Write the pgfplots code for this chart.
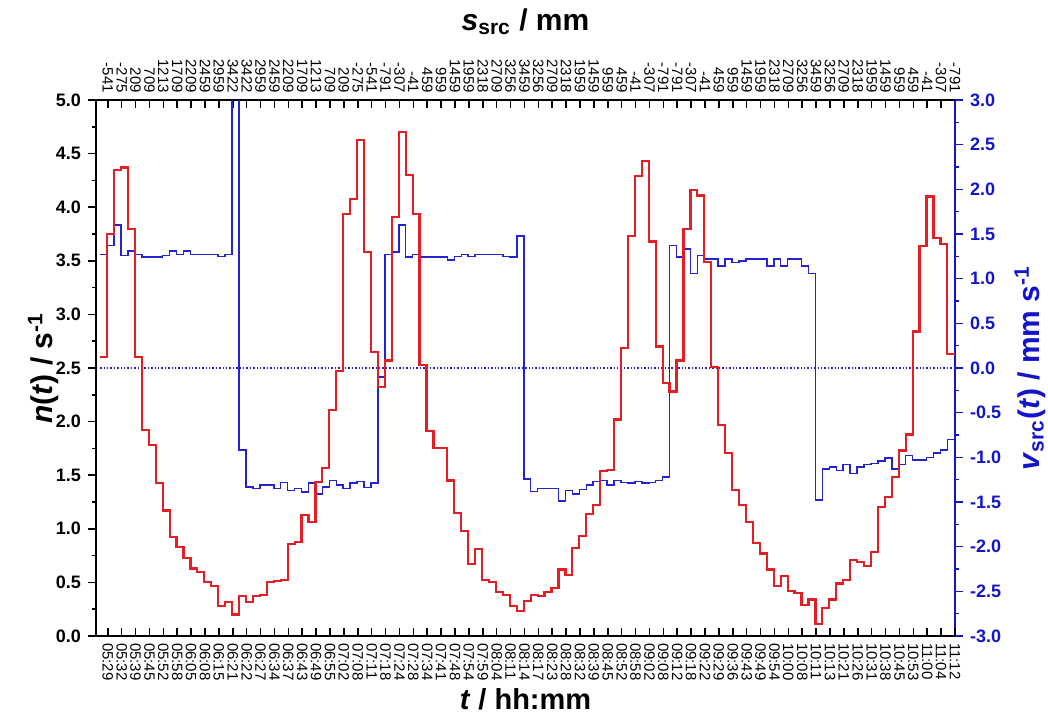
\documentclass[border=0pt]{standalone}
\usepackage{fontspec}
\setmainfont{Liberation Sans}
\usepackage{pgfplots}
\usepackage{pgfplotstable}
\pgfplotsset{compat=1.18}
\usetikzlibrary{calc}
\definecolor{myred}{RGB}{228,30,36}
\definecolor{myblue}{RGB}{35,35,210}
\definecolor{axblue}{RGB}{20,20,205}

\pgfplotstableread{
x n v
-0.55 2.60 1.27
-0.05 3.75 1.37
0.45 4.35 1.60
0.95 4.37 1.26
1.45 3.80 1.31
1.95 2.60 1.27
2.45 1.92 1.24
2.95 1.78 1.24
3.45 1.43 1.24
3.95 1.17 1.26
4.45 0.92 1.31
4.95 0.83 1.27
5.45 0.73 1.31
5.95 0.63 1.27
6.45 0.60 1.27
6.95 0.50 1.27
7.45 0.47 1.27
7.95 0.28 1.25
8.45 0.32 1.27
8.95 0.20 3.50
9.45 0.37 -0.92
9.95 0.32 -1.33
10.45 0.37 -1.35
10.95 0.38 -1.31
11.45 0.50 -1.31
11.95 0.51 -1.35
12.45 0.52 -1.28
12.95 0.86 -1.37
13.45 0.88 -1.35
13.95 1.13 -1.39
14.45 1.06 -1.29
14.95 1.44 -1.41
15.45 1.57 -1.33
15.95 2.11 -1.26
16.45 2.47 -1.31
16.95 3.94 -1.35
17.45 4.08 -1.29
17.95 4.63 -1.27
18.45 3.58 -1.34
18.95 2.65 -1.29
19.45 2.32 -0.10
19.95 2.57 1.27
20.45 3.91 1.30
20.95 4.70 1.60
21.45 4.30 1.24
21.95 3.94 1.27
22.45 2.53 1.24
22.95 1.91 1.24
23.45 1.75 1.24
23.95 1.75 1.24
24.45 1.45 1.21
24.95 1.15 1.25
25.45 0.98 1.27
25.95 0.67 1.25
26.45 0.81 1.27
26.95 0.52 1.27
27.45 0.50 1.27
27.95 0.41 1.27
28.45 0.38 1.25
28.95 0.28 1.24
29.45 0.23 1.48
29.95 0.33 -1.24
30.45 0.38 -1.38
30.95 0.37 -1.35
31.45 0.41 -1.35
31.95 0.45 -1.35
32.45 0.62 -1.49
32.95 0.57 -1.37
33.45 0.82 -1.41
33.95 0.93 -1.36
34.45 1.14 -1.31
34.95 1.22 -1.27
35.45 1.54 -1.26
35.95 1.55 -1.31
36.45 2.02 -1.26
36.95 2.69 -1.28
37.45 3.73 -1.29
37.95 4.29 -1.27
38.45 4.43 -1.29
38.95 3.68 -1.28
39.45 2.70 -1.26
39.95 2.36 -1.22
40.45 2.28 1.37
40.95 2.57 1.24
41.45 3.80 1.33
41.95 4.16 1.06
42.45 4.11 1.26
42.95 3.49 1.22
43.45 2.51 1.22
43.95 1.97 1.14
44.45 1.71 1.22
44.95 1.36 1.18
45.45 1.22 1.20
45.95 1.06 1.22
46.45 0.87 1.22
46.95 0.77 1.22
47.45 0.62 1.14
47.95 0.47 1.22
48.45 0.56 1.14
48.95 0.42 1.22
49.45 0.40 1.22
49.95 0.29 1.14
50.45 0.34 1.06
50.95 0.11 -1.48
51.45 0.26 -1.13
51.95 0.34 -1.11
52.45 0.49 -1.15
52.95 0.52 -1.08
53.45 0.71 -1.18
53.95 0.69 -1.11
54.45 0.65 -1.08
54.95 0.78 -1.07
55.45 1.20 -1.04
55.95 1.30 -1.01
56.45 1.48 -1.13
56.95 1.73 -1.08
57.45 1.88 -0.98
57.95 2.84 -1.03
58.45 3.64 -1.03
58.95 4.10 -1.00
59.45 3.71 -0.95
59.95 3.66 -0.92
60.45 2.63 -0.80
61.00 2.63 -0.80
}\data

\begin{document}
\begin{tikzpicture}
% right axis (v_src), top tick labels (s_src)
\begin{axis}[
  scale only axis, width=429.5pt, height=268pt,
  xmin=-0.85, xmax=61, ymin=-3, ymax=3,
  axis y line*=right, axis x line*=top,
  x axis line style={black, line width=0.8pt},
  y axis line style={axblue, line width=1pt},
  xtick={0,...,61},
  xticklabels={-541,-275,209,709,1213,1709,2209,2459,2959,3422,3422,2959,2459,2209,1709,1213,709,209,-275,-541,-791,-307,-41,459,959,1459,1959,2318,2709,3256,3459,3256,2709,2318,1959,1459,959,459,-41,-307,-791,-791,-307,-41,459,959,1459,1959,2318,2709,3256,3459,3256,2709,2318,1959,1459,959,459,-41,-307,-791},
  xticklabel style={font=\fontsize{7.5}{8}\selectfont, rotate=-90, anchor=east},
  xtick align=inside, ytick align=outside,
  major tick length=4pt, minor tick length=2pt,
  xtick style={black, line width=0.8pt},
  ytick={-3,-2.5,...,3},
  minor y tick num=1,
  ytick style={axblue, line width=0.8pt},
  yticklabel style={font=\bfseries\fontsize{9}{10}\selectfont, text=axblue},
  /pgf/number format/fixed, /pgf/number format/fixed zerofill,
  /pgf/number format/precision=1, /pgf/number format/assume math mode=true,
  xlabel={\textbf{\textit{s}\textsubscript{src} / mm}},
  xlabel style={at={(axis description cs:0.5,1.1455)}, anchor=center, font=\fontsize{15}{18}\selectfont},
  ylabel={\textbf{\textit{v}\textsubscript{src}(\textit{t}) / mm s\textsuperscript{-1}}},
  ylabel style={at={(axis description cs:1.0873,0.5)}, anchor=center, font=\fontsize{15}{18}\selectfont, text=axblue},
]
\addplot[myblue, line width=0.7pt, densely dotted] coordinates {(-0.55,0) (61,0)};
\addplot[myblue, line width=0.75pt, const plot mark left] table[x=x, y=v] {\data};
\end{axis}
% left axis n(t), bottom time labels
\begin{axis}[
  name=a,
  scale only axis, width=429.5pt, height=268pt,
  xmin=-0.85, xmax=61, ymin=0, ymax=5,
  axis y line*=left, axis x line*=bottom,
  axis line style={black, line width=0.8pt},
  xtick={0,...,61},
  xticklabels={05:29,05:32,05:39,05:45,05:52,05:58,06:05,06:08,06:15,06:21,06:22,06:27,06:34,06:37,06:43,06:49,06:55,07:02,07:08,07:11,07:18,07:24,07:28,07:34,07:41,07:48,07:54,07:59,08:04,08:11,08:14,08:17,08:23,08:28,08:32,08:39,08:45,08:52,08:58,09:02,09:08,09:12,09:18,09:22,09:29,09:36,09:43,09:49,09:54,10:00,10:08,10:11,10:13,10:21,10:26,10:31,10:38,10:45,10:53,11:00,11:04,11:12},
  xticklabel style={font=\fontsize{7.5}{8}\selectfont, rotate=-90, anchor=west},
  xtick align=inside, ytick align=outside,
  major tick length=4pt, minor tick length=2pt,
  tick style={black, line width=0.8pt},
  ytick={0,0.5,...,5},
  minor y tick num=1,
  yticklabel style={font=\bfseries\fontsize{9}{10}\selectfont},
  /pgf/number format/fixed, /pgf/number format/fixed zerofill,
  /pgf/number format/precision=1, /pgf/number format/assume math mode=true,
  xlabel={\textbf{\textit{t} / hh:mm}},
  xlabel style={at={(axis description cs:0.5,-0.118)}, anchor=center, font=\fontsize{14.5}{17}\selectfont},
  ylabel={\textbf{\textit{n}(\textit{t}) / s\textsuperscript{-1}}},
  ylabel style={at={(axis description cs:-0.061,0.5)}, anchor=center, font=\fontsize{15}{18}\selectfont},
]
\addplot[myred, line width=1.1pt, const plot mark left] table[x=x, y=n] {\data};
\end{axis}
\pgfresetboundingbox
\path[use as bounding box] ($(a.south west)+(-48pt,-41pt)$) rectangle ($(a.north east)+(46.5pt,50pt)$);
\end{tikzpicture}
\end{document}
